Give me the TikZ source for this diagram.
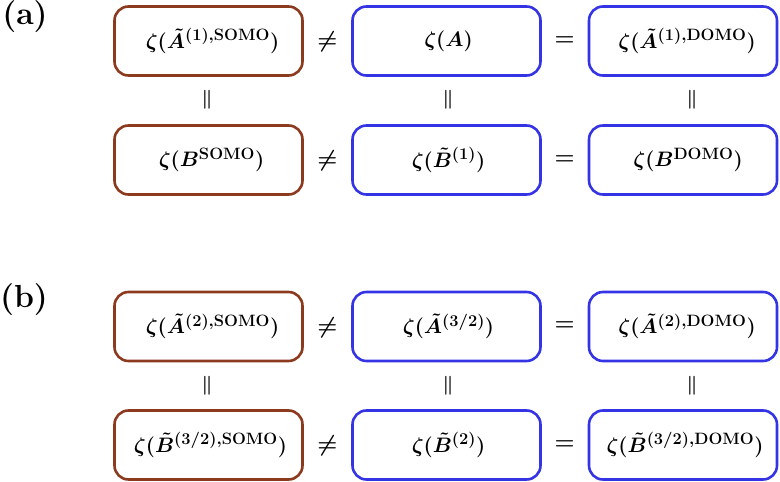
\RequirePackage{fix-cm}
\documentclass[tikz,border=0pt]{standalone}
\usepackage{amsmath}
\usetikzlibrary{calc}
\DeclareMathSizes{21}{21}{16.5}{12}
\definecolor{somo}{RGB}{140,58,30}
\definecolor{domo}{RGB}{52,52,228}
\tikzset{
  box/.style={draw, line width=2.6bp, rounded corners=14bp, minimum width=188bp, minimum height=69bp, inner sep=0pt,
    font=\fontsize{21}{25}\selectfont\boldmath},
  sbox/.style={box, draw=somo},
  dbox/.style={box, draw=domo},
  rel/.style={inner sep=0pt, font=\fontsize{23}{27}\selectfont\boldmath},
  vrel/.style={inner sep=0pt, font=\fontsize{19}{23}\selectfont\boldmath},
  lbl/.style={inner sep=0pt, anchor=center, font=\fontsize{32}{38}\selectfont\bfseries}
}
\newcommand{\supx}[2]{^{#1,\mathrm{#2}}}
\begin{document}
\begin{tikzpicture}[x=1bp,y=-1bp]
\useasboundingbox (0,0) rectangle (780,482);
% labels
\node[lbl] (la) at (25,17) {(a)};
\node[lbl] (lb) at (24,300) {(b)};
% (a)
\node[sbox] (a11) at (208.5,41) {\hspace{8bp}$\zeta(\tilde{A}\supx{(1)}{SOMO})$};
\node[dbox] (a12) at (446.5,41) {\hspace{4bp}$\zeta(A)$};
\node[dbox] (a13) at (683,41) {\hspace{8bp}$\zeta(\tilde{A}\supx{(1)}{DOMO})$};
\node[sbox] (a21) at (208.5,160) {\hspace{6bp}$\zeta(B^{\mathrm{SOMO}})$};
\node[dbox] (a22) at (446.5,160) {\hspace{4bp}$\zeta(\tilde{B}^{(1)})$};
\node[dbox] (a23) at (683,160) {\hspace{10bp}$\zeta(B^{\mathrm{DOMO}})$};
\node[rel] (an1) at ($(a11.east)!0.5!(a12.west)+(0,1)$) {$\neq$};
\node[rel] (ae1) at ($(a12.east)!0.5!(a13.west)$) {$=$};
\node[rel] (an2) at ($(a21.east)!0.5!(a22.west)+(0,1)$) {$\neq$};
\node[rel] (ae2) at ($(a22.east)!0.5!(a23.west)$) {$=$};
\node[vrel] (ap1) at (207,100) {$\parallel$};
\node[vrel] (ap2) at (448,100) {$\parallel$};
\node[vrel] (ap3) at (692,100) {$\parallel$};
% (b)
\node[sbox] (b11) at (208.5,326.5) {\hspace{8bp}$\zeta(\tilde{A}\supx{(2)}{SOMO})$};
\node[dbox] (b12) at (446.5,326.5) {\hspace{4bp}$\zeta(\tilde{A}^{(3/2)})$};
\node[dbox] (b13) at (683,326.5) {\hspace{8bp}$\zeta(\tilde{A}\supx{(2)}{DOMO})$};
\node[sbox] (b21) at (208.5,445) {\hspace{4bp}$\zeta(\tilde{B}\supx{(3/2)}{SOMO})$};
\node[dbox] (b22) at (446.5,445) {\hspace{4bp}$\zeta(\tilde{B}^{(2)})$};
\node[dbox] (b23) at (683,445) {\hspace{4bp}$\zeta(\tilde{B}\supx{(3/2)}{DOMO})$};
\node[rel] (bn1) at ($(b11.east)!0.5!(b12.west)+(0,1)$) {$\neq$};
\node[rel] (be1) at ($(b12.east)!0.5!(b13.west)$) {$=$};
\node[rel] (bn2) at ($(b21.east)!0.5!(b22.west)+(0,1)$) {$\neq$};
\node[rel] (be2) at ($(b22.east)!0.5!(b23.west)$) {$=$};
\node[vrel] (bp1) at (207,386) {$\parallel$};
\node[vrel] (bp2) at (448,386) {$\parallel$};
\node[vrel] (bp3) at (692,386) {$\parallel$};
\end{tikzpicture}
\end{document}
